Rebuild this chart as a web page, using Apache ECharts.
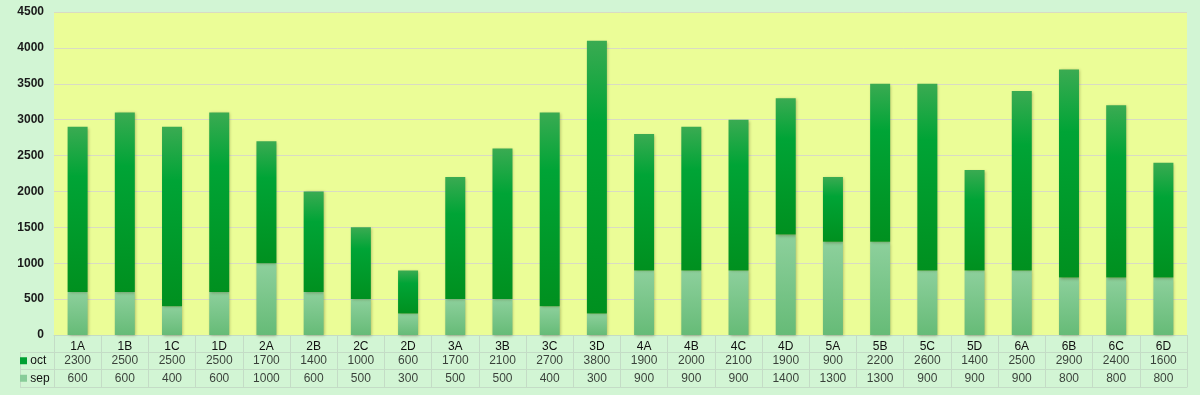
<!DOCTYPE html>
<html><head><meta charset="utf-8">
<script src="https://cdn.jsdelivr.net/npm/echarts@6/dist/echarts.min.js"></script>
<style>html,body{margin:0;padding:0;background:#d2f5d4;}#c{width:1200px;height:395px;}</style>
</head><body><div id="c"></div>
<script>
const categories = ['1A','1B','1C','1D','2A','2B','2C','2D','3A','3B','3C','3D','4A','4B','4C','4D','5A','5B','5C','5D','6A','6B','6C','6D'];
const octValues = [2300,2500,2500,2500,1700,1400,1000,600,1700,2100,2700,3800,1900,2000,2100,1900,900,2200,2600,1400,2500,2900,2400,1600];
const sepValues = [600,600,400,600,1000,600,500,300,500,500,400,300,900,900,900,1400,1300,1300,900,900,900,800,800,800];
const yTicks = {min:0, max:4500, interval:500};
const rowNames = ['sep','oct'];

const tableData = [];
categories.forEach((c,i)=>{
  tableData.push([i,1,String(octValues[i])]);
  tableData.push([i,0,String(sepValues[i])]);
});
const font = 'Liberation Sans, Arial, sans-serif';
const tableLine = '#c4dcc6';
const chart = echarts.init(document.getElementById('c'));
chart.setOption({
  backgroundColor:'#d2f5d4',
  animation:false,
  textStyle:{fontFamily:font},
  grid:[
    {left:54,right:13,top:12,height:323,show:true,backgroundColor:'#ebfd97',borderWidth:0},
    {left:54,right:13,top:352,height:35,show:false}
  ],
  xAxis:[
    {type:'category',data:categories,gridIndex:0,
     axisLabel:{show:true,color:'#111',fontSize:12,margin:6,fontFamily:font},
     axisTick:{show:true,length:17,lineStyle:{color:tableLine}},
     axisLine:{show:true,lineStyle:{color:tableLine}}},
    {type:'category',data:categories,gridIndex:1,axisLabel:{show:false},axisTick:{show:false},
     axisLine:{show:true,lineStyle:{color:tableLine}},
     splitLine:{show:true,lineStyle:{color:tableLine}},position:'bottom'}
  ],
  yAxis:[
    {type:'value',gridIndex:0,min:yTicks.min,max:yTicks.max,interval:yTicks.interval,
     axisLine:{show:false},axisTick:{show:false},
     axisLabel:{color:'#1a1a1a',fontSize:12,fontWeight:'bold',margin:10,fontFamily:font,formatter:function(v){return String(v);}},
     splitLine:{lineStyle:{color:'#d9dbc4',width:1}}},
    {type:'category',gridIndex:1,data:rowNames,
     axisLine:{show:true,lineStyle:{color:tableLine}},
     axisTick:{show:true,length:34,lineStyle:{color:tableLine}},
     splitLine:{show:true,lineStyle:{color:tableLine}},
     axisLabel:{margin:4,align:'left',padding:[0,0,0,-30],fontSize:12,color:'#111',
       formatter:function(v){ if(v==='oct') return '{o|}{t| oct}'; return '{s|}{t| sep}'; },
       rich:{o:{width:7,height:7,backgroundColor:'#00a033'},s:{width:7,height:7,backgroundColor:'#88cc99'},t:{fontSize:12,color:'#111',fontFamily:font}}}
    }
  ],
  graphic:[
    {type:'line',shape:{x1:20.5,y1:352.5,x2:20.5,y2:387.5},style:{stroke:tableLine,lineWidth:1}}
  ],
  series:[
    {name:'sep',type:'bar',stack:'s',xAxisIndex:0,yAxisIndex:0,data:sepValues,barWidth:20,
     itemStyle:{color:{type:'linear',x:0,y:0,x2:0,y2:1,colorStops:[{offset:0,color:'#8dd09c'},{offset:1,color:'#66bb77'}]},
       shadowBlur:3,shadowColor:'rgba(60,60,0,0.35)',shadowOffsetX:1,shadowOffsetY:1}},
    {name:'oct',type:'bar',stack:'s',xAxisIndex:0,yAxisIndex:0,data:octValues,barWidth:20,
     itemStyle:{color:{type:'linear',x:0,y:0,x2:0,y2:1,colorStops:[{offset:0,color:'#3aab52'},{offset:0.3,color:'#00a436'},{offset:1,color:'#00901f'}]},
       shadowBlur:3,shadowColor:'rgba(60,60,0,0.35)',shadowOffsetX:1,shadowOffsetY:1}},
    {type:'scatter',xAxisIndex:1,yAxisIndex:1,data:tableData,symbolSize:0,silent:true,
     label:{show:true,position:'inside',color:'#111',fontSize:12,fontFamily:font,formatter:function(p){return p.value[2];}}}
  ]
});
</script></body></html>
